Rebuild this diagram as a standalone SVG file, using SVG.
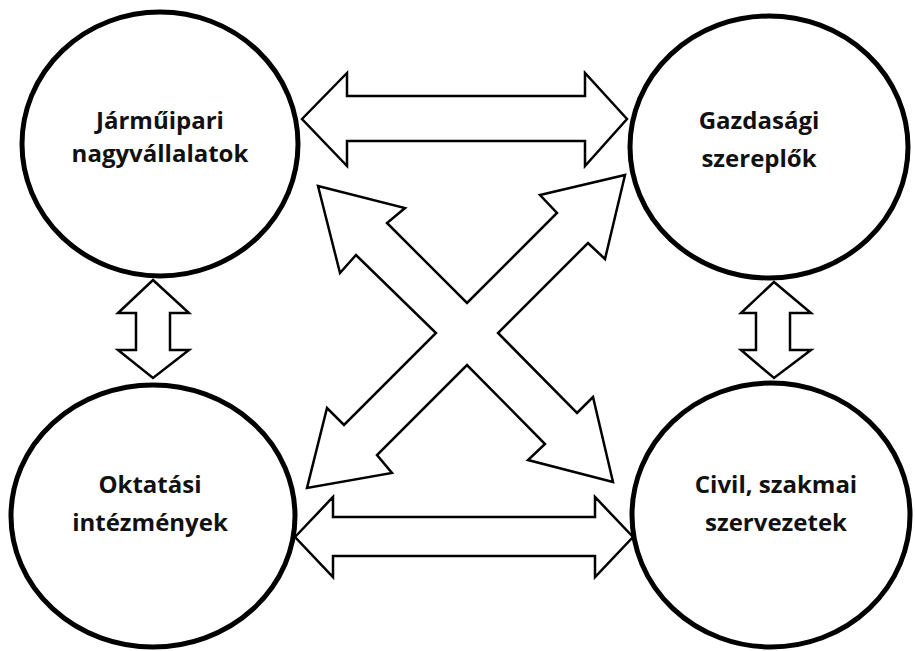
<svg xmlns="http://www.w3.org/2000/svg" width="915" height="651" viewBox="0 0 915 651">
<style>
.node ellipse{fill:#fff;stroke:#000;stroke-width:5}
.node text{font-family:"Open Sans","Liberation Sans",sans-serif;font-weight:700;font-size:24px;fill:#111;text-anchor:middle}
.conn polygon{fill:#fff;stroke:#000;stroke-width:2.5;stroke-linejoin:miter}
</style>
<rect width="915" height="651" fill="#fff"/>
<g class="conn" id="connectors">
<polygon id="c-top" points="302,119 347,73 347,96 585,96 585,73 627,119 585,166 585,141 347,141 347,166"/>
<polygon id="c-bottom" points="295,537 333,497 333,517 595,517 595,497 633,537 595,577 595,556 333,556 333,577"/>
<polygon id="c-left" points="153,280 189,313 170,313 170,350 189,350 153,378 118,350 136,350 136,313 118,313"/>
<polygon id="c-right" points="774,282 811,313 790,313 790,350 811,350 774,378 741,350 756,350 756,313 741,313"/>
<polygon id="c-cross" points="318,186 405,208 387,223 467,303 557,213 540,195 625,175 605,259 588,243 498,333 577,413 593,397 613,482 528,460 545,444 467,365 377,455 392,473 307,488 327,408 344,425 436,333 356,255 340,273"/>
</g>
<g class="node" id="n-jarmuipari">
<ellipse cx="160" cy="144" rx="138" ry="132"/>
<text x="160" y="129">Járműipari</text>
<text x="160" y="162">nagyvállalatok</text>
</g>
<g class="node" id="n-gazdasagi">
<ellipse cx="769" cy="147" rx="139" ry="131"/>
<text x="759" y="129">Gazdasági</text>
<text x="759" y="167">szereplők</text>
</g>
<g class="node" id="n-oktatasi">
<ellipse cx="153" cy="516" rx="142" ry="131"/>
<text x="150" y="493">Oktatási</text>
<text x="150" y="531">intézmények</text>
</g>
<g class="node" id="n-civil">
<ellipse cx="771" cy="515" rx="139" ry="132"/>
<text x="776" y="493">Civil, szakmai</text>
<text x="776" y="531">szervezetek</text>
</g>
</svg>
